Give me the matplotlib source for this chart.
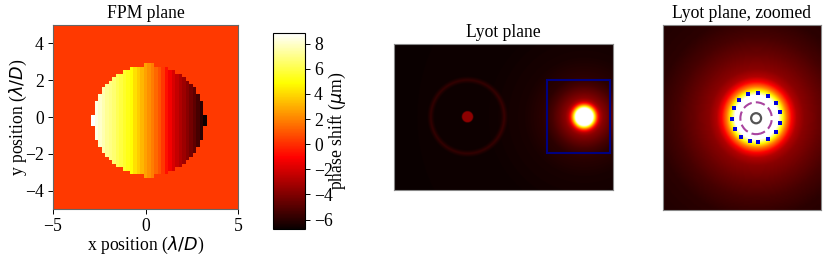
import numpy as np
import matplotlib
matplotlib.use('Agg')
from matplotlib import pyplot as plt
from matplotlib.patches import Rectangle, Circle

plt.rcParams['font.family'] = ['Liberation Serif', 'DejaVu Serif']
plt.rcParams['font.size'] = 12.7

W, H = 831, 261

# Phase shift of each column across the FPM dimple, left to right (microns)
column_phase = [8.8, 8.4, 8.0, 7.6, 7.2, 6.9, 6.6, 6.2, 5.9, 5.5, 5.2, 4.9, 4.2,
                3.7, 3.2, 2.7, 2.3, 1.9, 1.4, 0.9, 0.2, -0.7, -1.3, -1.9, -2.4,
                -2.9, -3.3, -3.8, -4.3, -4.8, -5.3, -5.9, -6.7]
phase_ticks = [-6, -4, -2, 0, 2, 4, 6, 8]
x_ticks = [-5, 0, 5]
y_ticks = [-4, -2, 0, 2, 4]

# Radial brightness of the off-axis glow and of the on-axis dot + ring (Lyot plane)
glow_r = [0, 8.4, 10.4, 12.0, 14.0, 16.0, 19, 25, 32, 40, 60, 100, 260]
glow_v = [1.05, 1.05, 0.75, 0.55, 0.365, 0.25, 0.19, 0.14, 0.09, 0.05, 0.022, 0.006, 0.001]
ring_r = [0, 5.2, 6.0, 33, 35.5, 36.7, 38, 40.5, 300]
ring_v = [0.19, 0.19, 0, 0, 0.035, 0.06, 0.035, 0, 0]

# Blue spots around the glow
spot_x = [190.8, 194.8, 197.9, 199.5, 199.5, 197.9, 194.8, 190.8, 187.7, 184.0, 181.5, 180.4, 181.1, 183.2, 186.7]
spot_y = [82.9, 81.7, 79.0, 75.3, 71.2, 67.6, 64.9, 63.7, 64.0, 65.7, 68.9, 72.8, 76.9, 80.2, 82.4]


def px_axes(fig, left, top, right, bottom):
    return fig.add_axes([left/W, 1 - bottom/H, (right - left)/W, (bottom - top)/H])


fig = plt.figure(figsize=(W/100, H/100), dpi=100)

# FPM plane
n = 53
phase = np.full((n, n), 0.3)
for i in range(n):
    for j in range(n):
        dx = j - 27
        dy = i - 25
        if dx**2 + dy**2 <= 258:
            phase[i, j] = column_phase[dx + 16]

ax1 = px_axes(fig, 53, 25, 238, 209)
im = ax1.imshow(phase, cmap='hot', vmin=-6.75, vmax=8.85, extent=[-5, 5, -5, 5],
                origin='lower', interpolation='nearest', aspect='auto')
ax1.set_xticks(x_ticks)
ax1.set_yticks(y_ticks)
ax1.set_xlabel(r'x position ($\lambda/D$)', labelpad=0)
ax1.set_ylabel(r'y position ($\lambda/D$)', labelpad=-3)
ax1.set_title('FPM plane', fontsize=12.7, pad=5)
ax1.tick_params(length=3.5, width=0.7, pad=3)
for s in ax1.spines.values():
    s.set_color('#666666')

cax = px_axes(fig, 273, 33, 305, 229)
cb = fig.colorbar(im, cax=cax)
cb.set_ticks(phase_ticks)
cb.set_label(r'phase shift ($\mu$m)', labelpad=-4)
cax.tick_params(length=3.5, width=0.7, pad=3)

# Lyot plane
yy, xx = np.mgrid[0:146:0.5, 0:219:0.5]
r_glow = np.hypot(xx - 190, yy - 73)
r_ring = np.hypot(xx - 73.3, yy - 73)
lyot = np.interp(r_glow, glow_r, glow_v) + np.interp(r_ring, ring_r, ring_v)

ax2 = px_axes(fig, 394, 44, 613, 190)
ax2.imshow(lyot, cmap='hot', vmin=0, vmax=1, extent=[0, 219, 0, 146], origin='lower',
           interpolation='bilinear', aspect='auto')
ax2.add_patch(Rectangle((152.7, 36.7), 63.3, 73.3, fill=False, ec='#000080', lw=1.5))
ax2.set_xticks([])
ax2.set_yticks([])
ax2.set_title('Lyot plane', fontsize=12.7, pad=5)

# Zoomed view of the blue box
ax3 = px_axes(fig, 663, 24.7, 821, 210)
ax3.imshow(lyot, cmap='hot', vmin=0, vmax=1, extent=[0, 219, 0, 146], origin='lower',
           interpolation='bilinear', aspect='auto')
ax3.set_xlim(152.7, 216)
ax3.set_ylim(36.7, 110)
ax3.add_patch(Circle((190, 73), 2.0, fill=False, ec='#555555', lw=1.6))
ax3.add_patch(Circle((190, 73), 6.3, fill=False, ec='#a9449f', lw=1.5, ls=(0, (4.5, 2))))
ax3.plot(spot_x, spot_y, ls='none', marker='s', ms=3.4, color='#0000e0', mew=0)
ax3.set_xticks([])
ax3.set_yticks([])
ax3.set_title('Lyot plane, zoomed', fontsize=12.7, pad=5)

for ax in [ax2, ax3]:
    for s in ax.spines.values():
        s.set_color('#888888')

plt.savefig('out.png', dpi=100)
